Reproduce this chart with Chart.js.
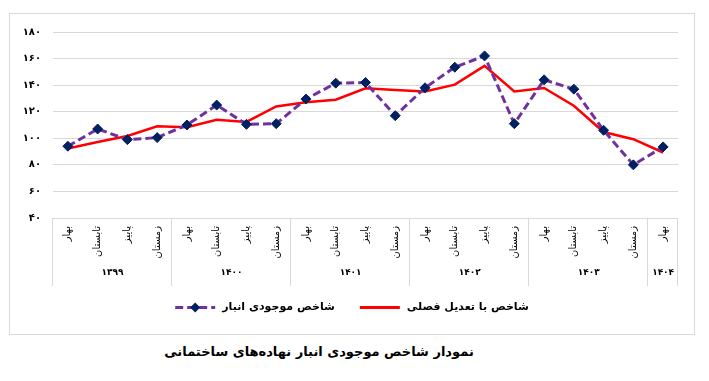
<!DOCTYPE html>
<html><head><meta charset="utf-8">
<script src="https://cdn.jsdelivr.net/npm/chart.js@4"></script>
<style>
html,body{margin:0;padding:0;background:#fff;width:709px;height:381px;overflow:hidden}
#box{position:absolute;left:9px;top:13px;width:684px;height:320px;border:1px solid #d9d9d9}
#c{display:block}
#title{position:absolute;top:344px;left:0;width:638px;text-align:center;font:bold 13px "DejaVu Sans";direction:rtl;color:#000}
</style></head><body>
<div id="box"><canvas id="c" width="684" height="320"></canvas></div>
<div id="title">نمودار شاخص موجودی انبار نهاده‌های ساختمانی</div>
<script>
const seasons = ['بهار','تابستان','پاییز','زمستان'];
const years = ['۱۳۹۹','۱۴۰۰','۱۴۰۱','۱۴۰۲','۱۴۰۳','۱۴۰۴'];
const yearCounts = [4,4,4,4,4,1];
const categories = [];
yearCounts.forEach(n => { for (let i = 0; i < n; i++) categories.push(seasons[i]); });
const inventory = [94,107,99,100.5,110,125,110.5,111,129.5,141.5,142,117,138,153.5,162,111,144,137,106,80,93.5];
const seasonal  = [92.3,97.2,101.7,109,108.4,114,112.3,124,127.2,129,137.6,136.4,135.2,140.4,154.5,135.2,137.9,124.5,104.7,99.3,89.3];
const yTickLabels = ['۴۰','۶۰','۸۰','۱۰۰','۱۲۰','۱۴۰','۱۶۰','۱۸۰'];
const seriesNames = ['شاخص موجودی انبار','شاخص با تعدیل فصلی'];

const FONT = '"DejaVu Sans"';
const PURPLE = '#7030A0', NAVY = '#002060', RED = '#FF0000', GRID = '#d9d9d9';

const groupPlugin = {
  id: 'groups',
  afterDraw(chart) {
    const {ctx, chartArea} = chart;
    const x = chart.scales.x;
    const half = (x.getPixelForValue(1) - x.getPixelForValue(0)) / 2;
    ctx.save();
    ctx.strokeStyle = GRID; ctx.lineWidth = 1;
    const top = chartArea.bottom, bot = chartArea.bottom + 68;
    let idx = 0;
    const edges = [x.getPixelForValue(0) - half];
    yearCounts.forEach((n, g) => {
      const start = x.getPixelForValue(idx) - half;
      const end = x.getPixelForValue(idx + n - 1) + half;
      edges.push(end);
      ctx.fillStyle = '#000';
      ctx.font = 'bold 9px ' + FONT;
      ctx.textAlign = 'center'; ctx.textBaseline = 'middle';
      ctx.fillText(years[g], (start + end) / 2, chartArea.bottom + 55);
      idx += n;
    });
    edges.forEach(e => {
      const px = Math.round(e) - 0.5;
      ctx.beginPath(); ctx.moveTo(px, top); ctx.lineTo(px, bot); ctx.stroke();
    });
    // legend
    const ly = 293.5;
    ctx.font = 'bold 11px ' + FONT;
    ctx.textBaseline = 'middle'; ctx.textAlign = 'left';
    const lineW = 40, gapT = 7, gapI = 25;
    const w0 = ctx.measureText(seriesNames[0]).width;
    const w1 = ctx.measureText(seriesNames[1]).width;
    const total = lineW + gapT + w0 + gapI + lineW + gapT + w1;
    let lx = chart.width / 2 - total / 2;
    ctx.strokeStyle = PURPLE; ctx.lineWidth = 3; ctx.setLineDash([8, 4]);
    ctx.beginPath(); ctx.moveTo(lx, ly); ctx.lineTo(lx + lineW, ly); ctx.stroke();
    ctx.setLineDash([]);
    ctx.fillStyle = NAVY;
    const cx = lx + lineW / 2;
    ctx.beginPath(); ctx.moveTo(cx, ly - 5); ctx.lineTo(cx + 5, ly); ctx.lineTo(cx, ly + 5); ctx.lineTo(cx - 5, ly); ctx.closePath(); ctx.fill();
    ctx.fillStyle = '#000';
    ctx.fillText(seriesNames[0], lx + lineW + gapT, ly);
    lx += lineW + gapT + w0 + gapI;
    ctx.strokeStyle = RED; ctx.lineWidth = 3;
    ctx.beginPath(); ctx.moveTo(lx, ly); ctx.lineTo(lx + lineW, ly); ctx.stroke();
    ctx.fillText(seriesNames[1], lx + lineW + gapT, ly);
    ctx.restore();
  }
};

new Chart(document.getElementById('c'), {
  type: 'line',
  data: {
    labels: categories,
    datasets: [
      { label: seriesNames[0], data: inventory, borderColor: PURPLE, borderWidth: 3, borderDash: [8, 4],
        pointStyle: 'rectRot', pointRadius: 5, pointBackgroundColor: NAVY, pointBorderColor: NAVY, pointBorderWidth: 1,
        tension: 0, order: 0 },
      { label: seriesNames[1], data: seasonal, borderColor: RED, borderWidth: 2.5, pointRadius: 0, tension: 0, order: 1 }
    ]
  },
  options: {
    responsive: false, animation: false, devicePixelRatio: 1,
    layout: { padding: { top: 15, right: 16, left: 0, bottom: 0 } },
    plugins: { legend: { display: false }, tooltip: { enabled: false } },
    scales: {
      x: {
        offset: true,
        grid: { display: false, drawTicks: false },
        border: { display: false },
        ticks: { autoSkip: false, maxRotation: 90, minRotation: 90, padding: 8, color: '#000', font: { family: FONT, size: 10 } },
        afterFit(s) { s.height = 116; }
      },
      y: {
        min: 40, max: 180,
        grid: { color: GRID, drawTicks: false },
        border: { display: false },
        ticks: { stepSize: 20, padding: 12, color: '#000', font: { family: FONT, size: 10, weight: 'bold' },
          callback: (v, i) => yTickLabels[i] },
        afterFit(s) { s.width = 43; }
      }
    }
  },
  plugins: [groupPlugin]
});
</script>
</body></html>
